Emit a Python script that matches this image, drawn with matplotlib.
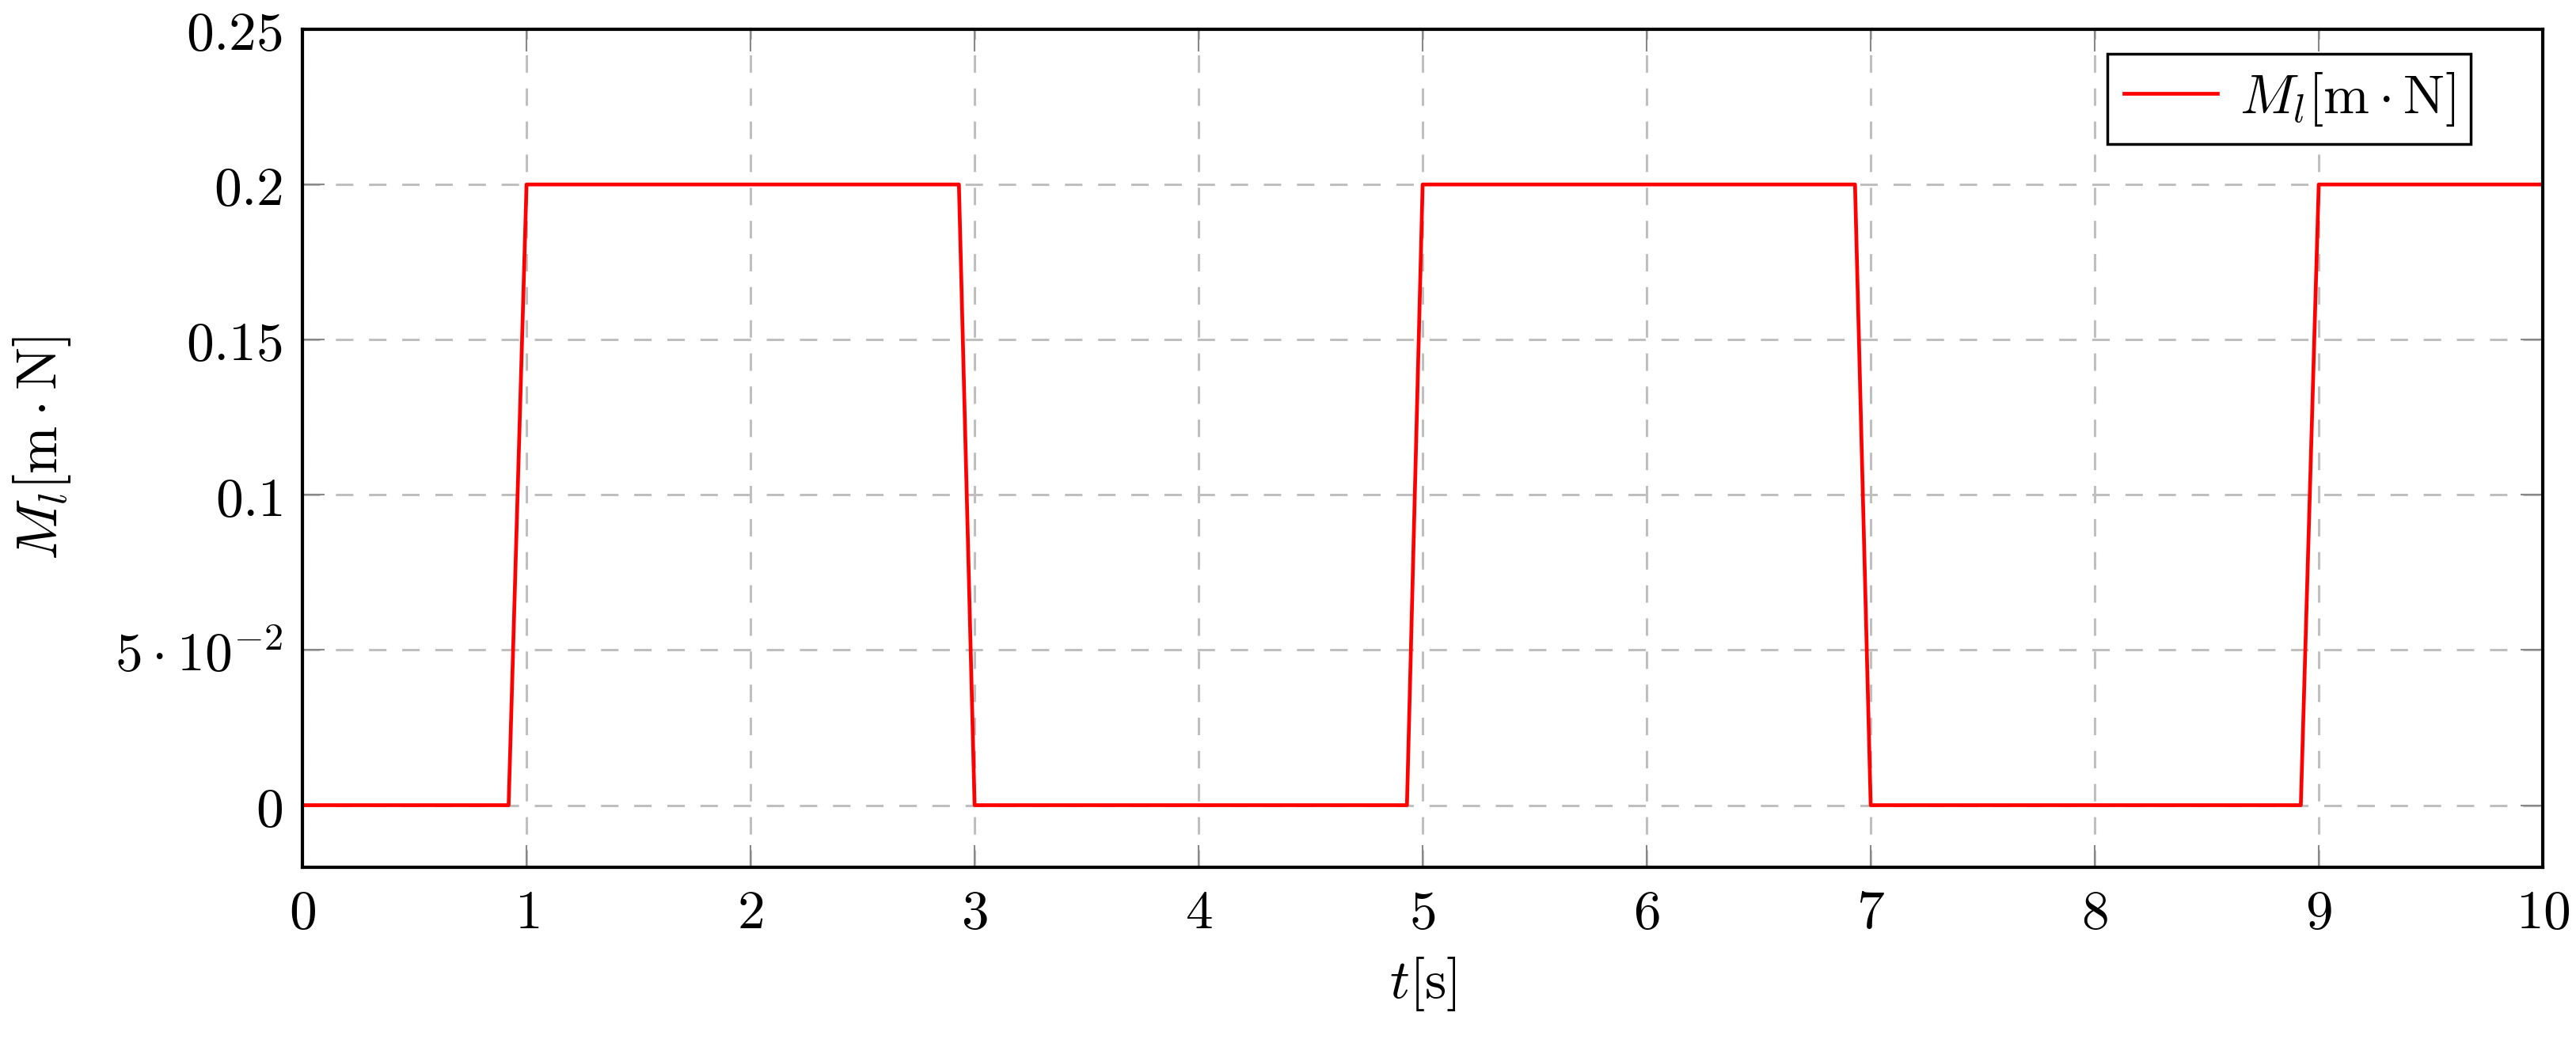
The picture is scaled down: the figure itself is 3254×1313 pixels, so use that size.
import matplotlib
matplotlib.use("Agg")
import matplotlib.pyplot as plt

# load torque signal M_l(t)
t = [0.0, 0.92, 1.0, 2.93, 3.0, 4.93, 5.0, 6.93, 7.0, 8.92, 9.0, 10.0]
m_l = [0.0, 0.0, 0.2, 0.2, 0.0, 0.0, 0.2, 0.2, 0.0, 0.0, 0.2, 0.2]

x_ticks = [0, 1, 2, 3, 4, 5, 6, 7, 8, 9, 10]
y_ticks = [0, 0.05, 0.1, 0.15, 0.2, 0.25]
y_tick_labels = [r"$0$", r"$5\cdot10^{-2}$", r"$0.1$", r"$0.15$", r"$0.2$", r"$0.25$"]

plt.rcParams["mathtext.fontset"] = "cm"
plt.rcParams["font.family"] = "DejaVu Serif"

fig = plt.figure(figsize=(32.55, 13.13), dpi=100)
ax = fig.add_axes([0.1174, 0.1653, 0.8694, 0.8065])

ax.plot(t, m_l, color="red", linewidth=3.4, label=r"$M_l[\mathrm{m}\cdot\mathrm{N}]$")

ax.set_xlim(0, 10)
ax.set_ylim(-0.02, 0.25)
ax.set_xticks(x_ticks)
ax.set_xticklabels([rf"${v}$" for v in x_ticks])
ax.set_yticks(y_ticks)
ax.set_yticklabels(y_tick_labels)

ax.grid(True, color="#bfbfbf", linestyle=(0, (7.2, 6.5)), linewidth=2.2)
ax.set_axisbelow(True)
ax.tick_params(direction="in", length=20, width=1.5, color="#888888",
               top=True, right=True, labelsize=50, pad=18)
for s in ax.spines.values():
    s.set_linewidth(3)

ax.set_xlabel(r"$t[\mathrm{s}]$", fontsize=50, labelpad=14)
ax.set_ylabel(r"$M_l[\mathrm{m}\cdot\mathrm{N}]$", fontsize=52, labelpad=38)

leg = ax.legend(loc="upper right", bbox_to_anchor=(0.968, 0.971), borderaxespad=0,
                fontsize=50, fancybox=False, framealpha=1, edgecolor="black",
                borderpad=0.3, handlelength=1.7, handletextpad=0.4)
leg.get_frame().set_linewidth(2.5)

fig.savefig("out.png", dpi=100)
